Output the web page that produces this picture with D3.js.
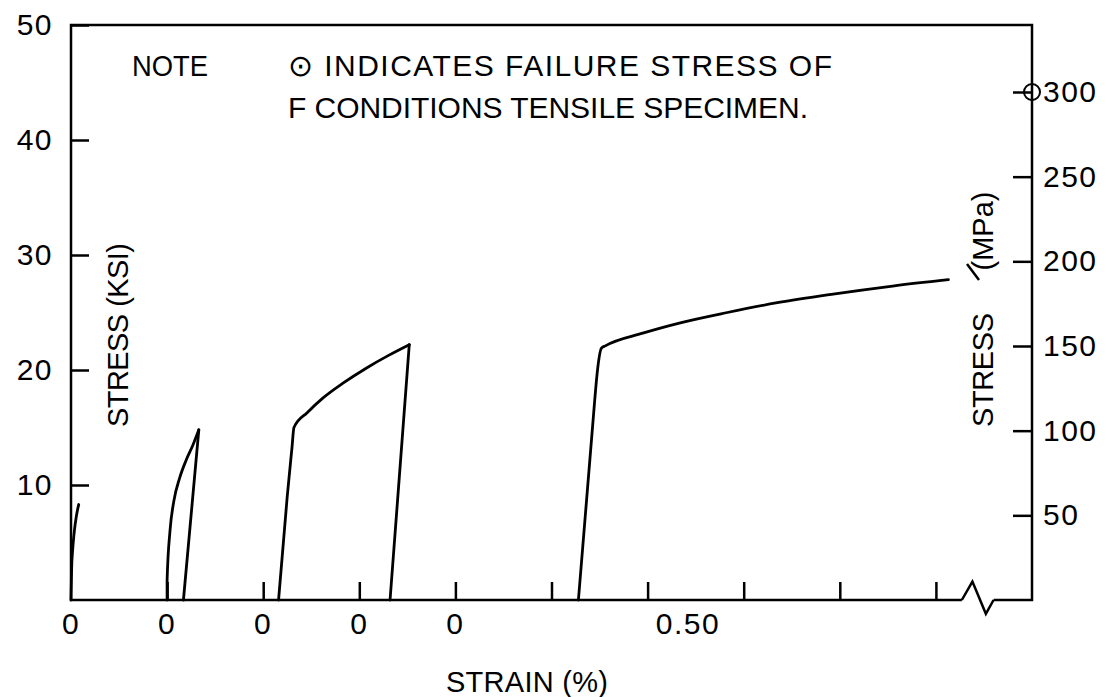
<!DOCTYPE html>
<html>
<head>
<meta charset="utf-8">
<script src="https://cdn.jsdelivr.net/npm/d3@7"></script>
<style>
  body { margin: 0; background: #fff; }
  svg text { font-family: "Liberation Sans", Arial, sans-serif; fill: #000; }
  .axis line { stroke: #000; stroke-width: 2.5; }
  .axis path { display: none; }
  .curve { fill: none; stroke: #000; stroke-width: 2.8; stroke-linejoin: round; stroke-linecap: round; }
</style>
</head>
<body>
<script>
// SVG size
const w = 1106;
const h = 697;

// Left axis (ksi) and right axis (MPa)
const ksiTicks = [10, 20, 30, 40, 50];
const mpaTicks = [50, 100, 150, 200, 250, 300];

// Strain axis: tick marks are in chart divisions
const strainTicks = [1, 2, 3, 4, 5, 6, 7, 8, 9];
const strainLabels = ["0", "0", "0", "0", "0", "0.50"];
const strainLabelPos = [0, 1, 2, 3, 4, 6.42];

// Axis break on the strain axis
const breakX = [9.27, 9.38, 9.52, 9.6];
const breakY = [0, 1.6, -1.2, 0];

// Loading curves: [strain division, stress ksi]
const load1 = [[0, 0], [0.01, 3.5], [0.08, 8.3]];
const load2 = [[1.0, 0], [1.0, 1.7], [1.03, 6.0], [1.07, 8.6], [1.13, 10.6], [1.20, 12.2],
               [1.27, 13.5], [1.33, 14.8]];
const load3 = [[2.16, 0], [2.25, 9.0], [2.30, 13.3], [2.32, 15.0], [2.46, 16.3], [2.62, 17.55],
               [2.83, 18.85], [3.08, 20.2], [3.30, 21.25], [3.52, 22.2]];
const load4 = [[5.28, 0], [5.45, 17.4], [5.47, 19.3], [5.52, 21.9], [5.56, 22.1], [5.95, 23.2],
               [6.34, 24.1], [6.83, 25.0], [7.35, 25.85], [7.93, 26.6], [8.55, 27.3], [9.13, 27.85]];

// Unloading lines
const unload2 = [[1.33, 14.8], [1.17, 0]];
const unload3 = [[3.52, 22.2], [3.32, 0]];

// Failure stress marker (MPa)
const failureMPa = 300;

// Scales
const xScale = d3.scaleLinear().domain([0, 10]).range([71, 1032]);
const yScale = d3.scaleLinear().domain([0, 50]).range([600, 25]);
const mpaScale = d3.scaleLinear().domain([0, 300]).range([600, 92]);

const svg = d3.select("body")
    .append("svg")
    .attr("width", w)
    .attr("height", h);

// Frame with the axis break
const frame = d3.path();
frame.moveTo(xScale(breakX[0]), yScale(0));
frame.lineTo(xScale(0), yScale(0));
frame.lineTo(xScale(0), yScale(50));
frame.lineTo(xScale(10), yScale(50));
frame.lineTo(xScale(10), yScale(0));
frame.lineTo(xScale(breakX[3]), yScale(0));

svg.append("path")
    .attr("d", frame.toString())
    .attr("fill", "none")
    .attr("stroke", "#000")
    .attr("stroke-width", 2.5);

const zig = d3.line()
    .x(d => xScale(d))
    .y((d, i) => yScale(breakY[i]));

svg.append("path")
    .attr("d", zig(breakX))
    .attr("fill", "none")
    .attr("stroke", "#000")
    .attr("stroke-width", 2.5);

// Left axis
svg.append("g")
    .attr("class", "axis")
    .attr("transform", `translate(${xScale(0)},0)`)
    .call(d3.axisLeft(yScale).tickValues(ksiTicks).tickSize(-18).tickPadding(18))
    .selectAll("text")
    .attr("font-size", 30)
    .attr("letter-spacing", 1.5);

// Right axis
svg.append("g")
    .attr("class", "axis")
    .attr("transform", `translate(${xScale(10)},0)`)
    .call(d3.axisRight(mpaScale).tickValues(mpaTicks).tickSize(-19).tickPadding(11))
    .selectAll("text")
    .attr("font-size", 30)
    .attr("letter-spacing", 1.5);

// Bottom axis ticks
svg.append("g")
    .attr("class", "axis")
    .attr("transform", `translate(0,${yScale(0)})`)
    .call(d3.axisBottom(xScale).tickValues(strainTicks).tickSize(-18).tickFormat(""));

// Strain labels
svg.selectAll(".xlab")
    .data(strainLabels)
    .join("text")
    .attr("class", "xlab")
    .attr("x", (d, i) => xScale(strainLabelPos[i]))
    .attr("y", 634)
    .attr("text-anchor", "middle")
    .attr("font-size", 30)
    .attr("letter-spacing", 1.5)
    .text(d => d);

// Curves
const loadLine = d3.line()
    .curve(d3.curveMonotoneX)
    .x(d => xScale(d[0]))
    .y(d => yScale(d[1]));

const straight = d3.line()
    .x(d => xScale(d[0]))
    .y(d => yScale(d[1]));

[load1, load2, load3, load4].forEach(c => {
    svg.append("path")
        .datum(c)
        .attr("class", "curve")
        .attr("d", loadLine);
});

[unload2, unload3].forEach(c => {
    svg.append("path")
        .datum(c)
        .attr("class", "curve")
        .attr("d", straight);
});

// Failure marker on right axis
svg.append("circle")
    .attr("cx", xScale(10))
    .attr("cy", mpaScale(failureMPa))
    .attr("r", 8)
    .attr("fill", "none")
    .attr("stroke", "#000")
    .attr("stroke-width", 2);

// Axis titles
svg.append("text")
    .attr("transform", "translate(128,335) rotate(-90)")
    .attr("text-anchor", "middle")
    .attr("font-size", 29)
    .attr("textLength", 184)
    .attr("lengthAdjust", "spacing")
    .text("STRESS (KSI)");

svg.append("text")
    .attr("transform", "translate(993,370) rotate(-90)")
    .attr("text-anchor", "middle")
    .attr("font-size", 29)
    .attr("textLength", 114)
    .attr("lengthAdjust", "spacing")
    .text("STRESS");

svg.append("text")
    .attr("transform", "translate(993,231) rotate(-90)")
    .attr("text-anchor", "middle")
    .attr("font-size", 29)
    .text("(MPa)");

// stray stroke before (MPa)
svg.append("line")
    .attr("x1", 967).attr("y1", 264)
    .attr("x2", 979).attr("y2", 280)
    .attr("stroke", "#000")
    .attr("stroke-width", 2.5);

svg.append("text")
    .attr("x", 527)
    .attr("y", 692)
    .attr("text-anchor", "middle")
    .attr("font-size", 29)
    .attr("textLength", 162)
    .attr("lengthAdjust", "spacing")
    .text("STRAIN (%)");

// Note
svg.append("text")
    .attr("x", 132)
    .attr("y", 76)
    .attr("font-size", 30)
    .attr("textLength", 76)
    .attr("lengthAdjust", "spacingAndGlyphs")
    .text("NOTE");

svg.append("text")
    .attr("x", 288)
    .attr("y", 76)
    .attr("font-size", 30)
    .attr("textLength", 544)
    .attr("lengthAdjust", "spacing")
    .text("\u2299 INDICATES  FAILURE  STRESS OF");

svg.append("text")
    .attr("x", 288)
    .attr("y", 118)
    .attr("font-size", 30)
    .attr("textLength", 520)
    .attr("lengthAdjust", "spacing")
    .text("F CONDITIONS  TENSILE  SPECIMEN.");
</script>
</body>
</html>
